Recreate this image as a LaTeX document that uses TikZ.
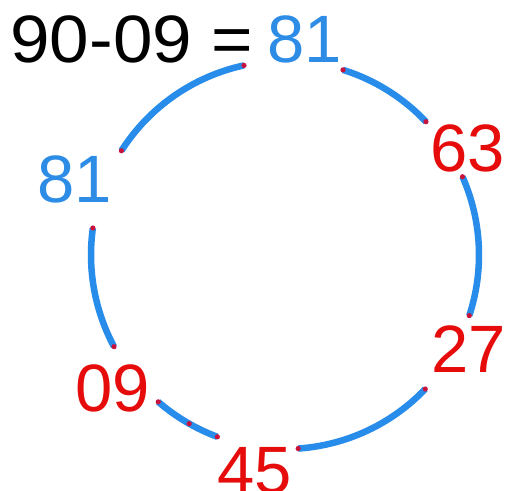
\documentclass[tikz,border=0pt]{standalone}
\usepackage{fontspec}
\setmainfont{Liberation Sans}
\definecolor{numblue}{RGB}{45,140,230}
\definecolor{arcblue}{RGB}{40,140,235}
\definecolor{numred}{RGB}{230,12,12}
\definecolor{dotred}{RGB}{200,20,60}
\begin{document}
\begin{tikzpicture}[x=1pt,y=1pt,
  num/.style={inner sep=0pt,anchor=base west,font=\fontsize{67}{70}\selectfont},
  arcline/.style={draw=arcblue,line width=6.5pt},
  enddot/.style={fill=dotred}]
\fill[white] (0,0) rectangle (506,490);
\useasboundingbox (0,0) rectangle (506,490);
\coordinate (O) at (285,235);
% labels
\node[num,text=black] (title) at (10.3,427) {\scalebox{1.06}[1]{90-09 =}};
\node[num,text=numblue] (top) at (267.3,427) {81};
\node[num,text=numblue] (left) at (37.3,287) {81};
\node[num,text=numred] (n63) at (430.5,318) {63};
\node[num,text=numred] (n27) at (431,117) {27};
\node[num,text=numred] (n09) at (75.2,78) {09};
\node[num,text=numred] (n45) at (217.5,-3) {45};
% arc end points
\foreach \n/\a in {a1/147.5,a2/102.2,b1/72.6,b2/43.4,c1/23.8,c2/-18.2,d1/-43.7,d2/-86.1,e1/-110.4,e2/-130.8,em/-119.6,f1/172,f2/208.2}
  \coordinate (\n) at ([shift={(\a:194)}]O);
% arcs
\draw[arcline] (a1) arc[start angle=147.5,end angle=102.2,radius=194];
\draw[arcline] (b1) arc[start angle=72.6,end angle=43.4,radius=194];
\draw[arcline] (c1) arc[start angle=23.8,end angle=-18.2,radius=194];
\draw[arcline] (d1) arc[start angle=-43.7,end angle=-86.1,radius=194];
\draw[arcline] (e1) arc[start angle=-110.4,end angle=-130.8,radius=194];
\draw[arcline] (f1) arc[start angle=172,end angle=208.2,radius=194];
% end dots
\foreach \p in {a1,a2,b1,b2,c1,c2,d1,d2,e1,e2,em,f1,f2}
  \fill[enddot] (\p) circle (2.6);
\end{tikzpicture}
\end{document}
